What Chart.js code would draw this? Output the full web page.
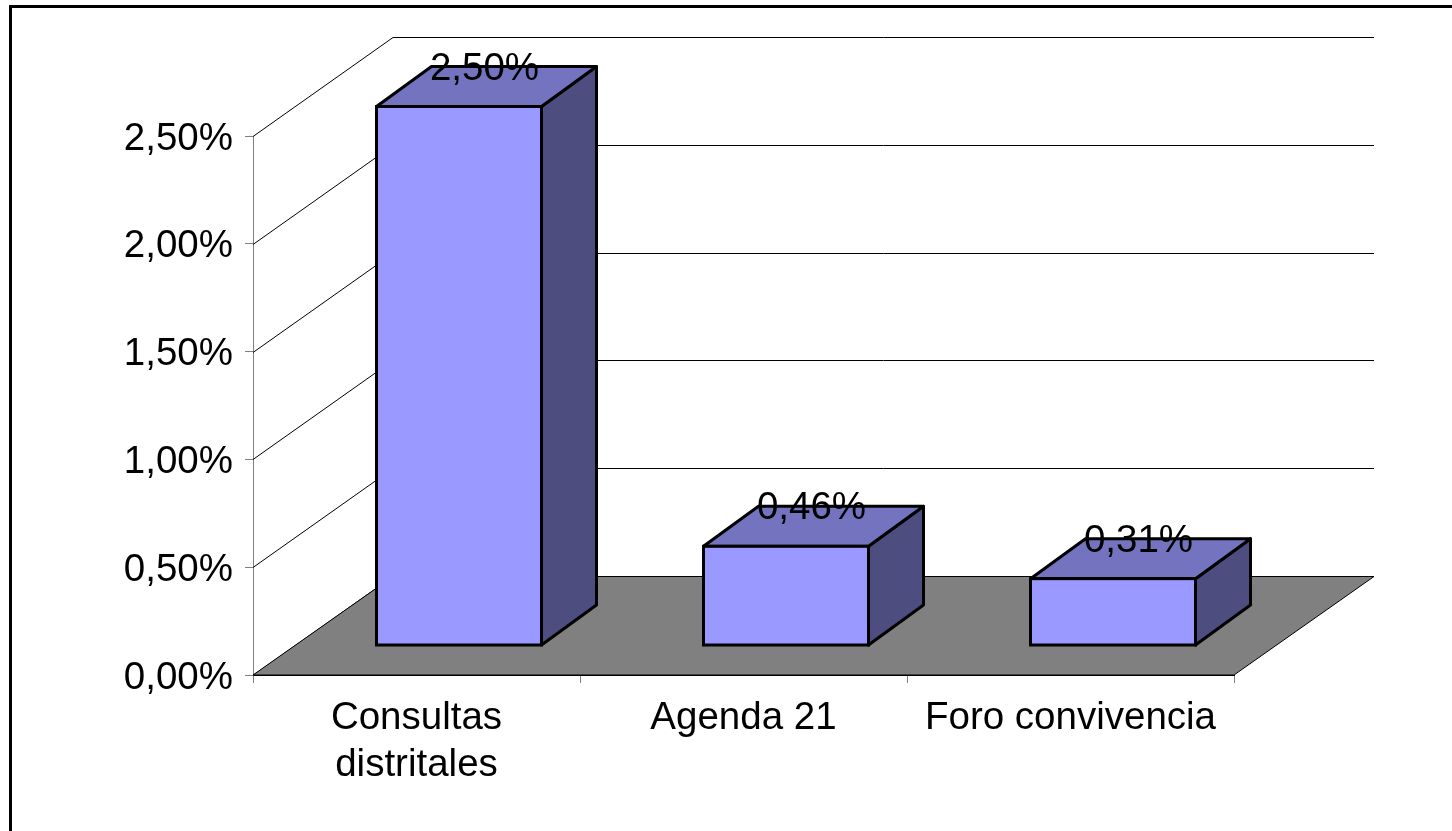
<!DOCTYPE html>
<html><head><meta charset="utf-8">
<style>html,body{margin:0;padding:0;background:#fff;overflow:hidden}canvas{display:block}
#w{position:absolute;left:0;top:0;width:1452px;height:831px}</style>
<script src="https://cdn.jsdelivr.net/npm/chart.js@4"></script></head>
<body><div id="w"><canvas id="c" width="1452" height="831"></canvas></div>
<script>
const categories = [['Consultas','distritales'], 'Agenda 21', 'Foro convivencia'];
const seriesValues = [2.5, 0.46, 0.31];
const yMin = 0, yMax = 2.5, yStep = 0.5;
const FONT = '"Liberation Sans", Arial, sans-serif';
const FS = 38.5;
const wallDX = 140, wallDY = -98.5;
const barDX = 42.5, barDY = -29.5;
const depthDX = 55, depthDY = -40;
const yLabelShift = 3;
const fmt = v => v.toFixed(2).replace('.', ',') + '%';

function poly(ctx, pts, fill, stroke, lw) {
  ctx.beginPath();
  pts.forEach((p, i) => i ? ctx.lineTo(p[0], p[1]) : ctx.moveTo(p[0], p[1]));
  ctx.closePath();
  if (fill) { ctx.fillStyle = fill; ctx.fill(); }
  if (stroke) { ctx.strokeStyle = stroke; ctx.lineWidth = lw; ctx.lineJoin = 'round'; ctx.stroke(); }
}
const scene = {
  id: 'scene',
  beforeDraw(chart) {
    const ctx = chart.ctx;
    ctx.save();
    ctx.fillStyle = '#fff'; ctx.fillRect(0, 0, 1452, 831);
    ctx.fillStyle = '#000';
    ctx.fillRect(9, 5, 1443, 3);
    ctx.fillRect(9, 5, 3, 826);
    ctx.restore();
  },
  beforeDatasetsDraw(chart) {
    const ctx = chart.ctx, x = chart.scales.x, y = chart.scales.y;
    const L = chart.chartArea.left, R = chart.chartArea.right;
    ctx.save();
    ctx.strokeStyle = '#000'; ctx.lineWidth = 1;
    y.ticks.forEach(t => {
      const py = Math.round(y.getPixelForValue(t.value));
      ctx.beginPath();
      ctx.moveTo(L, py + 0.5);
      ctx.lineTo(L + wallDX, py + wallDY);
      ctx.lineTo(R + wallDX, py + wallDY);
      ctx.stroke();
    });
    const b = Math.round(y.getPixelForValue(0));
    poly(ctx, [[L, b], [R, b], [R + wallDX, b + wallDY], [L + wallDX, b + wallDY]], '#808080', '#000', 1);
    chart.getDatasetMeta(0).data.forEach(el => {
      const l = el.x - el.width / 2 + barDX, r = el.x + el.width / 2 + barDX;
      const t = el.y + barDY, bt = el.base + barDY;
      poly(ctx, [[r, t], [r + depthDX, t + depthDY], [r + depthDX, bt + depthDY], [r, bt]], '#4D4D80', '#000', 3);
      poly(ctx, [[l, t], [l + depthDX, t + depthDY], [r + depthDX, t + depthDY], [r, t]], '#7373BF', '#000', 3);
    });
    ctx.restore();
  },
  beforeDatasetDraw(chart) { chart.ctx.save(); chart.ctx.translate(barDX, barDY); },
  afterDatasetDraw(chart) {
    const ctx = chart.ctx;
    chart.getDatasetMeta(0).data.forEach(el => {
      ctx.strokeStyle = '#000'; ctx.lineWidth = 3; ctx.lineJoin = 'miter';
      ctx.strokeRect(el.x - el.width / 2, el.y, el.width, el.base - el.y);
    });
    ctx.restore();
  },
  afterDatasetsDraw(chart) {
    const ctx = chart.ctx;
    ctx.save();
    ctx.font = FS + 'px ' + FONT;
    ctx.fillStyle = '#000'; ctx.textAlign = 'center'; ctx.textBaseline = 'alphabetic';
    chart.getDatasetMeta(0).data.forEach((el, i) => {
      ctx.fillText(fmt(seriesValues[i]), el.x + barDX + 25.5, el.y + barDY - 27);
    });
    ctx.restore();
  }
};
new Chart(document.getElementById('c'), {
  type: 'bar',
  data: { labels: categories, datasets: [{
    data: seriesValues, backgroundColor: '#9999FF', borderWidth: 0,
    barPercentage: 165 / 327, categoryPercentage: 1, clip: false
  }]},
  plugins: [scene],
  options: {
    responsive: false, animation: false, devicePixelRatio: 1,
    layout: { padding: { top: 136, right: 218, left: 0, bottom: 0 } },
    plugins: { legend: { display: false }, tooltip: { enabled: false } },
    scales: {
      x: {
        afterFit(s) { s.height = 156; },
        grid: { drawOnChartArea: false, color: '#808080', tickLength: 8 },
        border: { display: true, color: '#000', width: 1 },
        ticks: { color: '#000', font: { family: FONT, size: FS, lineHeight: 1.225 }, padding: 12, maxRotation: 0, autoSkip: false }
      },
      y: {
        min: yMin, max: yMax,
        afterFit(s) { s.width = 253; },
        afterUpdate(s) {
          if (s._shifted) return;
          s._shifted = true;
          const draw = s.drawLabels;
          s.drawLabels = function (area) {
            s.ctx.save(); s.ctx.translate(0, yLabelShift); draw.call(s, area); s.ctx.restore();
          };
        },
        grid: { drawOnChartArea: false, color: '#808080', tickLength: 8 },
        border: { display: true, color: '#808080', width: 1 },
        ticks: { stepSize: yStep, color: '#000', font: { family: FONT, size: FS }, padding: 12, callback: v => fmt(v) }
      }
    }
  }
});
</script></body></html>
